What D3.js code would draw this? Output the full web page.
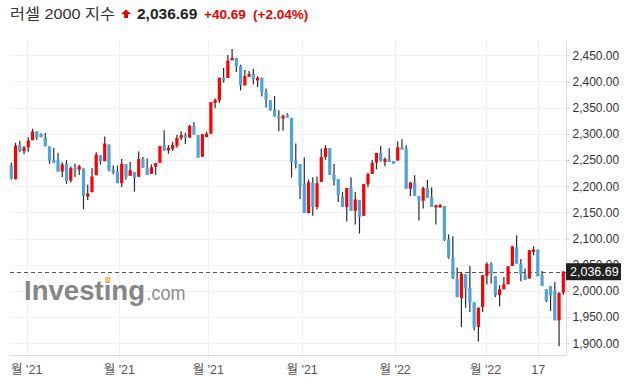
<!DOCTYPE html>
<html>
<head>
<meta charset="utf-8">
<script src="https://cdn.jsdelivr.net/npm/d3@7"></script>
<style>
  body { margin: 0; background: #fff; }
  svg { display: block; }
  text { font-family: "Liberation Sans", Arial, "Noto Sans CJK KR", sans-serif; }
</style>
</head>
<body>
<div class="chart"></div>
<script>
        // daily candles (open / high / low / close)
        var opens = [2239.5, 2213.4, 2279.6, 2266.9, 2274.5, 2287.9, 2304.5, 2299.4, 2293, 2275.8,
            2251, 2251, 2228, 2243.3, 2210.8, 2235.7, 2231.8, 2233.8, 2180, 2188.5,
            2221, 2259.2, 2247.8, 2279.6, 2231.8, 2228, 2205.7, 2242.2, 2219.8, 2226.8,
            2217.9, 2251.8, 2234.5, 2223.6, 2237.1, 2244.8, 2278.6, 2268.4, 2271.6, 2277.4,
            2292.1, 2297.8, 2292.7, 2315.1, 2297.8, 2256.3, 2293.9, 2300.4, 2359.2, 2363.7,
            2407.2, 2406.5, 2440.4, 2444.9, 2429.5, 2392.5, 2409.1, 2414.2, 2402, 2407.2,
            2379.7, 2364.3, 2345.8, 2334.3, 2329.2, 2336.8, 2330.4, 2249.2, 2242.2, 2203.8,
            2148.8, 2207, 2160.4, 2208.3, 2255.6, 2272.9, 2222.4, 2213.4, 2179.9, 2160.7,
            2197.8, 2153, 2173.5, 2143.5, 2204.2, 2223.3, 2245.1, 2263.6, 2246.3, 2252.1,
            2248.2, 2248.9, 2275.1, 2271.2, 2195.2, 2207.3, 2181.1, 2172.2, 2196.5, 2179.2,
            2159.4, 2159.4, 2162, 2098.7, 2063.7, 2023.5, 1986.6, 2031.8, 2006.4, 1978.3,
            1931.2, 1969.4, 2028.7, 2052.2, 2028, 1991.7, 2003.2, 2012.7, 2047.8, 2082.8,
            2052.2, 2031.2, 2023.6, 2074.5, 2079, 2029.9, 2003.2, 2008.9, 2000, 1943.9,
            1996.8];
        var highs = [2244.6, 2283, 2286.6, 2277, 2293.6, 2309.6, 2304.5, 2301, 2302, 2275.8,
            2273, 2263.7, 2245.9, 2249.7, 2237.6, 2242.7, 2240.8, 2233.8, 2203, 2235,
            2265, 2259.2, 2295, 2279.6, 2239.5, 2239.5, 2252, 2242.2, 2246, 2226.8,
            2266.5, 2255.6, 2253, 2241.6, 2244.1, 2276.7, 2306.8, 2278.6, 2285, 2297.8,
            2304.9, 2302.3, 2317, 2322.1, 2297.8, 2299.1, 2304.2, 2360.5, 2367.5, 2407.2,
            2425.7, 2450.6, 2462, 2444.9, 2432.1, 2421.9, 2420, 2424.4, 2410.4, 2407.2,
            2386.7, 2364.3, 2372, 2345.1, 2336.8, 2339.4, 2330.4, 2281.8, 2242.2, 2255,
            2212.8, 2217.3, 2218.5, 2272.2, 2278.6, 2272.9, 2242.2, 2213.4, 2189.5, 2196.5,
            2216.9, 2188.8, 2173.5, 2204.2, 2225.9, 2250.2, 2263.6, 2277, 2254.6, 2272.5,
            2248.2, 2285.9, 2289.8, 2278.3, 2207.3, 2220.8, 2181.1, 2199, 2211.8, 2197.8,
            2163.9, 2165.8, 2162, 2108, 2104.5, 2044.6, 2036.3, 2031.8, 2047.8, 1978.3,
            1968.1, 2029.9, 2054.8, 2054.8, 2028, 2010.8, 2026.7, 2047.1, 2085.3, 2106.4,
            2061.1, 2042.7, 2077.7, 2085.3, 2079, 2038.2, 2003.2, 2008.9, 2017.2, 1997.4,
            2038.2];
        var lows = [2213, 2213, 2265, 2261, 2265.6, 2287.9, 2288.5, 2293.6, 2276.4, 2242.7,
            2244.6, 2228, 2217.8, 2204.4, 2207, 2217.8, 2221.6, 2156, 2173.6, 2188.5,
            2221, 2241.4, 2247.8, 2228, 2223, 2205.7, 2198.7, 2212.8, 2219.8, 2189.8,
            2217.9, 2235.2, 2221.7, 2223.6, 2221.7, 2244.8, 2267.8, 2262, 2267.1, 2273.5,
            2288.2, 2280.5, 2292.7, 2298.5, 2254.4, 2256.3, 2293.9, 2300.4, 2349, 2358.6,
            2398.2, 2406.5, 2440.4, 2418, 2382.9, 2392.5, 2409.1, 2394.4, 2389.3, 2371.4,
            2350.3, 2343.9, 2333, 2304.9, 2306.1, 2331, 2216.6, 2233.9, 2175.7, 2148.8,
            2148.8, 2143.7, 2155.3, 2208.3, 2250.5, 2221.7, 2201.3, 2170, 2160.7, 2133.2,
            2153, 2126.8, 2109.6, 2143.5, 2197.8, 2223.3, 2232.3, 2247, 2238, 2246.3,
            2243.1, 2248.9, 2270, 2195.2, 2181.1, 2181.8, 2134.5, 2157.5, 2178, 2160.7,
            2126.8, 2159.4, 2095.5, 2061.6, 2023, 1988.5, 1931.2, 1968, 1959.9, 1924.8,
            1903.2, 1959.9, 2012.1, 2014, 1988.5, 1970.7, 2003.2, 2012.7, 2047.8, 2052.2,
            2018.5, 2021, 2023.6, 2068.1, 2028, 2009.5, 1979, 1961.8, 1943.9, 1894.3,
            1992.3];
        var closes = [2214.6, 2277.7, 2266.9, 2273.9, 2287.3, 2304.5, 2293.6, 2293.6, 2276.4, 2249,
            2244.6, 2228, 2241.4, 2209.5, 2235, 2230, 2238.2, 2182.2, 2186, 2218.5,
            2260.5, 2247.8, 2281.5, 2230, 2226, 2205.7, 2242.7, 2217.9, 2230.7, 2216,
            2251.8, 2235.2, 2221.7, 2236.4, 2244.1, 2276.7, 2267.8, 2273.5, 2278.6, 2292.1,
            2297.8, 2292.7, 2315.1, 2298.5, 2254.4, 2299.1, 2300.4, 2360.5, 2365, 2407.2,
            2402, 2439.8, 2444.9, 2428.9, 2392.5, 2410.4, 2414.2, 2404, 2407.2, 2379,
            2365.6, 2345.1, 2333, 2329.2, 2334.3, 2331, 2246.7, 2242.9, 2200.6, 2148.8,
            2207.7, 2160.4, 2205.7, 2255.6, 2272.9, 2221.7, 2211.5, 2182.1, 2160.7, 2196.5,
            2153, 2174.8, 2141.5, 2204.2, 2223.3, 2244.4, 2263.6, 2248.9, 2252.1, 2246.3,
            2243.1, 2274.4, 2270, 2195.2, 2207.3, 2181.8, 2172.2, 2196.5, 2178, 2160.7,
            2163.9, 2163.9, 2097.4, 2063.6, 2024.8, 1988.5, 2033.1, 2004.4, 1977.7, 1929.9,
            1968.1, 2029.9, 2051.6, 2031.2, 1991.7, 2003.2, 2012.7, 2047.1, 2085.3, 2052.2,
            2031.2, 2021, 2077.7, 2079, 2028, 2009.5, 1980.9, 1991.7, 1943.9, 1996.0,
            2036.69];

        // price axis ticks
        var priceTicks = [1900, 1950, 2000, 2050, 2100, 2150, 2200, 2250, 2300, 2350, 2400, 2450];
        // date grid (bar index where each label sits)
        var dateTickIndex = [3.63, 25.44, 46.4, 68.5, 90.4, 111.7, 124.1];
        var dateTickLabels = ["월 '21", "월 '21", "월 '21", "월 '21", "월 '22", "월 '22", "17"];

        var lastPrice = 2036.69;
        var titleName = "러셀 2000 지수";
        var titlePrice = "2,036.69";
        var titleChange = "+40.69";
        var titlePct = "(+2.04%)";

        var W = 627, H = 386;
        var plotLeft = 10, plotRight = 566, plotTop = 40, plotBottom = 355.5;

        var candles = opens.map(function (o, i) {
            return { i: i, o: o, h: highs[i], l: lows[i], c: closes[i] };
        });

        var svg = d3.select(".chart")
            .append("svg")
            .attr("width", W)
            .attr("height", H);

        var x = d3.scaleLinear()
            .domain([0, candles.length - 1])
            .range([11.3, 563.3]);

        var y = d3.scaleLinear()
            .domain([1900, 2450])
            .range([343.3, 55.3]);

        var fmt = d3.format(",.2f");

        //grid
        svg.append("g")
            .selectAll("line")
            .data(priceTicks)
            .join("line")
            .attr("x1", plotLeft)
            .attr("x2", plotRight)
            .attr("y1", function (d) { return Math.round(y(d)) + 0.5 })
            .attr("y2", function (d) { return Math.round(y(d)) + 0.5 })
            .attr("stroke", "#f2f2f4")

        svg.append("g")
            .selectAll("line")
            .data(dateTickIndex)
            .join("line")
            .attr("x1", function (d) { return Math.round(x(d)) + 0.5 })
            .attr("x2", function (d) { return Math.round(x(d)) + 0.5 })
            .attr("y1", plotTop)
            .attr("y2", plotBottom + 4)
            .attr("stroke", "#f0f0f3")

        //axes lines
        svg.append("line")
            .attr("x1", plotLeft - 1).attr("x2", plotRight)
            .attr("y1", plotBottom).attr("y2", plotBottom)
            .attr("stroke", "#dcdce0")
        svg.append("line")
            .attr("x1", plotRight + 0.5).attr("x2", plotRight + 0.5)
            .attr("y1", plotTop).attr("y2", plotBottom)
            .attr("stroke", "#dcdce0")

        //right axis
        var yAxis = d3.axisRight(y)
            .tickValues(priceTicks)
            .tickSize(3)
            .tickPadding(3)
            .tickFormat(fmt);
        var gy = svg.append("g")
            .attr("transform", "translate(" + (plotRight + 0.5) + ",0)")
            .call(yAxis);
        gy.select(".domain").remove();
        gy.selectAll(".tick line").attr("stroke", "#c8c8cc");
        gy.selectAll(".tick text")
            .attr("fill", "#333")
            .attr("font-size", "12px")
            .attr("font-family", "Liberation Sans, Arial, sans-serif");

        //bottom labels
        svg.append("g")
            .selectAll("text")
            .data(dateTickIndex)
            .join("text")
            .attr("x", function (d) { return x(d) })
            .attr("y", 374)
            .attr("text-anchor", "middle")
            .attr("fill", "#555")
            .attr("font-size", "12.5px")
            .text(function (d, i) { return dateTickLabels[i] });

        //watermark
        svg.append("text")
            .attr("x", 24)
            .attr("y", 300)
            .attr("font-size", "28px")
            .attr("font-weight", "bold")
            .attr("textLength", 121)
            .attr("lengthAdjust", "spacingAndGlyphs")
            .attr("fill", "#868686")
            .text("Investing");
        svg.append("text")
            .attr("x", 146.5)
            .attr("y", 300)
            .attr("font-size", "21px")
            .attr("textLength", 39)
            .attr("lengthAdjust", "spacingAndGlyphs")
            .attr("fill", "#8c8c8c")
            .text(".com");
        svg.append("rect")
            .attr("x", 105).attr("y", 277)
            .attr("width", 5.5).attr("height", 5)
            .attr("fill", "#f7c46c");

        //last price line
        svg.append("line")
            .attr("x1", plotLeft)
            .attr("x2", plotRight)
            .attr("y1", Math.round(y(lastPrice)) + 0.5)
            .attr("y2", Math.round(y(lastPrice)) + 0.5)
            .attr("stroke", "#555")
            .attr("stroke-dasharray", "4,3")

        //candles
        var g = svg.append("g");
        g.selectAll("line.wick")
            .data(candles)
            .join("line")
            .attr("class", "wick")
            .attr("x1", function (d) { return x(d.i) })
            .attr("x2", function (d) { return x(d.i) })
            .attr("y1", function (d) { return y(d.h) })
            .attr("y2", function (d) { return y(d.l) })
            .attr("stroke", "#262b2e")
            .attr("stroke-width", 1.2)

        g.selectAll("rect.body")
            .data(candles)
            .join("rect")
            .attr("class", "body")
            .attr("x", function (d) { return x(d.i) - 1.6 })
            .attr("width", 3.2)
            .attr("y", function (d) { return y(Math.max(d.o, d.c)) })
            .attr("height", function (d) { return Math.max(1.5, Math.abs(y(d.o) - y(d.c))) })
            .attr("fill", function (d) { return d.c >= d.o ? "#ff0000" : "#4ca3dd" })

        //price box (covers the 2,050.00 label like the original)
        var py = y(lastPrice);
        svg.append("rect")
            .attr("x", plotRight)
            .attr("y", py - 8.5)
            .attr("width", 55)
            .attr("height", 17)
            .attr("fill", "#222");
        svg.append("text")
            .attr("x", plotRight + 4)
            .attr("y", py + 4.5)
            .attr("fill", "#fff")
            .attr("font-size", "12.5px")
            .text(fmt(lastPrice));

        //title
        svg.append("text")
            .attr("x", 10)
            .attr("y", 18.5)
            .attr("fill", "#333")
            .attr("font-size", "15px")
            .attr("textLength", 105)
            .attr("lengthAdjust", "spacingAndGlyphs")
            .text(titleName);
        svg.append("path")
            .attr("d", "M126,9.5 L131,14 L128,14 L128,18 L124,18 L124,14 L121,14 Z")
            .attr("fill", "#ee0000");
        svg.append("text")
            .attr("x", 137)
            .attr("y", 19)
            .attr("fill", "#222")
            .attr("font-size", "15.5px")
            .attr("font-weight", "bold")
            .text(titlePrice);
        svg.append("text")
            .attr("x", 204)
            .attr("y", 19)
            .attr("fill", "#ee0000")
            .attr("font-size", "13.5px")
            .attr("font-weight", "bold")
            .text(titleChange);
        svg.append("text")
            .attr("x", 253)
            .attr("y", 19)
            .attr("fill", "#ee0000")
            .attr("font-size", "13.5px")
            .attr("font-weight", "bold")
            .text(titlePct);
</script>
</body>
</html>
